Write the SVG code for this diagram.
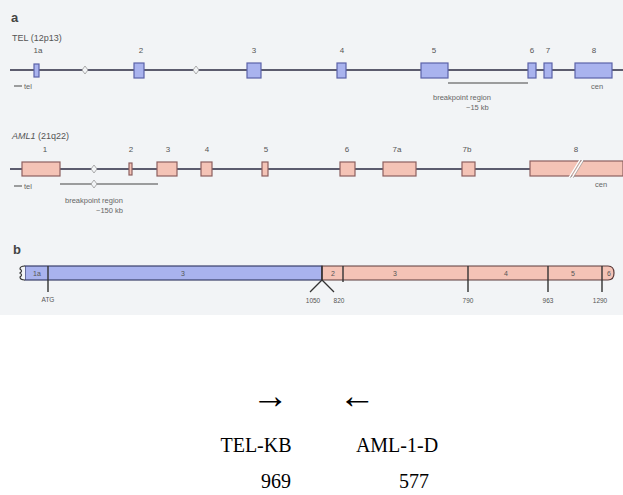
<svg xmlns="http://www.w3.org/2000/svg" width="623" height="495" viewBox="0 0 623 495">
<style>
.bg{fill:#f2f4f6}
.hd{font-family:"Liberation Sans",Arial,sans-serif;font-size:13px;font-weight:bold;fill:#444}
.tt{font-family:"Liberation Sans",Arial,sans-serif;font-size:9px;fill:#555}
.sm{font-family:"Liberation Sans",Arial,sans-serif;font-size:7.5px;fill:#666}
.ex{font-family:"Liberation Sans",Arial,sans-serif;font-size:8px;fill:#555;text-anchor:middle}
.bl{font-family:"Liberation Sans",Arial,sans-serif;font-size:7px;fill:#555;text-anchor:middle}
.pl{font-family:"Liberation Sans",Arial,sans-serif;font-size:6.5px;fill:#555;text-anchor:middle}
.ln{stroke:#2a2a40;stroke-width:1.6;fill:none}
.thin{stroke:#444;stroke-width:1;fill:none}
.tel{fill:#a9b3ee;stroke:#5b62a8;stroke-width:1.2}
.aml{fill:#f4c3b6;stroke:#8c5f5f;stroke-width:1.2}
.dia{fill:#f2f4f6;stroke:#999;stroke-width:0.8}
.tick{stroke:#333;stroke-width:1.4}
.bt{font-family:"Liberation Serif","Times New Roman",serif;font-size:20px;fill:#000;text-anchor:middle}
.ar{font-family:"Liberation Serif","Times New Roman",serif;font-size:37px;fill:#000;text-anchor:middle}
</style>
<rect class="bg" x="0" y="0" width="623" height="315"/>
<text class="hd" x="11" y="22">a</text>
<text class="tt" x="12" y="41">TEL (12p13)</text>

<g id="connectors">
<line class="ln" x1="10" y1="70" x2="623" y2="70"/>
<line class="ln" x1="10" y1="169" x2="530" y2="169"/>
<line class="thin" x1="448" y1="83" x2="528" y2="83"/>
<line class="thin" x1="60" y1="184" x2="158" y2="184"/>
<line class="thin" x1="14" y1="86" x2="22" y2="86"/>
<line class="thin" x1="14" y1="186" x2="22" y2="186"/>
</g>

<g id="tel-breaks">
<path class="dia" d="M85 66 L88 70 L85 74 L82 70 Z"/>
<path class="dia" d="M196 66 L199 70 L196 74 L193 70 Z"/>
</g>

<g id="tel-1a"><rect class="tel" x="34" y="64" width="5" height="13"/><text class="ex" x="38" y="53">1a</text></g>
<g id="tel-2"><rect class="tel" x="134" y="63" width="10" height="15"/><text class="ex" x="141" y="53">2</text></g>
<g id="tel-3"><rect class="tel" x="247" y="63" width="14" height="15"/><text class="ex" x="254" y="53">3</text></g>
<g id="tel-4"><rect class="tel" x="337" y="63" width="9" height="15"/><text class="ex" x="342" y="53">4</text></g>
<g id="tel-5"><rect class="tel" x="421" y="63" width="27" height="15"/><text class="ex" x="434" y="53">5</text></g>
<g id="tel-6"><rect class="tel" x="528" y="63" width="8" height="15"/><text class="ex" x="532" y="53">6</text></g>
<g id="tel-7"><rect class="tel" x="544" y="63" width="8" height="15"/><text class="ex" x="548" y="53">7</text></g>
<g id="tel-8"><rect class="tel" x="575" y="63" width="37" height="15"/><text class="ex" x="594" y="53">8</text></g>

<text class="sm" x="24" y="89">tel</text>
<text class="sm" x="591" y="89">cen</text>
<text class="sm" x="433" y="100">breakpoint region</text>
<text class="sm" x="466" y="110">~15 kb</text>

<text class="tt" x="12" y="139" font-style="italic">AML1</text>
<text class="tt" x="38" y="139">(21q22)</text>

<path class="dia" d="M94 165 L97 169 L94 173 L91 169 Z"/>
<path class="dia" d="M94 180 L97 184 L94 188 L91 184 Z"/>

<g id="aml-1"><rect class="aml" x="22" y="162" width="38" height="14"/><text class="ex" x="45" y="152">1</text></g>
<g id="aml-2"><rect class="aml" x="129" y="163" width="3" height="12"/><text class="ex" x="131" y="152">2</text></g>
<g id="aml-3"><rect class="aml" x="157" y="162" width="20" height="14"/><text class="ex" x="168" y="152">3</text></g>
<g id="aml-4"><rect class="aml" x="201" y="162" width="11" height="14"/><text class="ex" x="207" y="152">4</text></g>
<g id="aml-5"><rect class="aml" x="262" y="162" width="6" height="14"/><text class="ex" x="266" y="152">5</text></g>
<g id="aml-6"><rect class="aml" x="340" y="162" width="15" height="14"/><text class="ex" x="347" y="152">6</text></g>
<g id="aml-7a"><rect class="aml" x="383" y="162" width="33" height="14"/><text class="ex" x="397" y="152">7a</text></g>
<g id="aml-7b"><rect class="aml" x="462" y="162" width="13" height="14"/><text class="ex" x="467" y="152">7b</text></g>
<g id="aml-8"><rect class="aml" x="530" y="161" width="93" height="15"/><text class="ex" x="576" y="152">8</text>
<line x1="569" y1="178" x2="580" y2="160" stroke="#fff" stroke-width="1.5"/><line x1="572" y1="178" x2="583" y2="160" stroke="#fff" stroke-width="1.5"/>
<line x1="570" y1="178" x2="581" y2="160" stroke="#888" stroke-width="0.6"/><line x1="573" y1="178" x2="584" y2="160" stroke="#888" stroke-width="0.6"/></g>

<text class="sm" x="24" y="189">tel</text>
<text class="sm" x="595" y="187">cen</text>
<text class="sm" x="65" y="203">breakpoint region</text>
<text class="sm" x="96" y="213">~150 kb</text>

<text class="hd" x="13" y="254">b</text>

<g id="fusion">
<rect x="25" y="266" width="297" height="14" fill="#a9b3ee" stroke="#3a3f6a" stroke-width="1.2"/>
<path d="M322 266 H608 Q614 266 614 273 Q614 280 608 280 H322 Z" fill="#f4c3b6" stroke="#5a3a3a" stroke-width="1.2"/>
<path d="M25 266 Q20 266 20 269 Q23 271 20 273 Q23 275 20 277 Q20 280 25 280" fill="#f2f4f6" stroke="#333" stroke-width="1.2"/>
<line class="tick" x1="48" y1="266" x2="48" y2="292"/>
<line class="tick" x1="322" y1="266" x2="322" y2="280"/>
<line class="tick" x1="343" y1="266" x2="343" y2="282"/>
<line class="tick" x1="468" y1="266" x2="468" y2="292"/>
<line class="tick" x1="548" y1="266" x2="548" y2="292"/>
<line class="tick" x1="602" y1="266" x2="602" y2="292"/>
<path d="M310 292 L322 280 L334 292" fill="none" stroke="#333" stroke-width="1.3"/>
<text class="bl" x="37" y="276">1a</text>
<text class="bl" x="183" y="276">3</text>
<text class="bl" x="333" y="276">2</text>
<text class="bl" x="395" y="276">3</text>
<text class="bl" x="506" y="276">4</text>
<text class="bl" x="573" y="276">5</text>
<text class="bl" x="609" y="276">6</text>
<text class="pl" x="48" y="302">ATG</text>
<text class="pl" x="313" y="303">1050</text>
<text class="pl" x="339" y="303">820</text>
<text class="pl" x="468" y="303">790</text>
<text class="pl" x="548" y="303">963</text>
<text class="pl" x="600" y="303">1290</text>
</g>

<g id="primers">
<text class="ar" x="270" y="408">→</text>
<text class="ar" x="357" y="408">←</text>
<text class="bt" x="256" y="452">TEL-KB</text>
<text class="bt" x="397" y="452">AML-1-D</text>
<text class="bt" x="276" y="488">969</text>
<text class="bt" x="414" y="488">577</text>
</g>
</svg>
